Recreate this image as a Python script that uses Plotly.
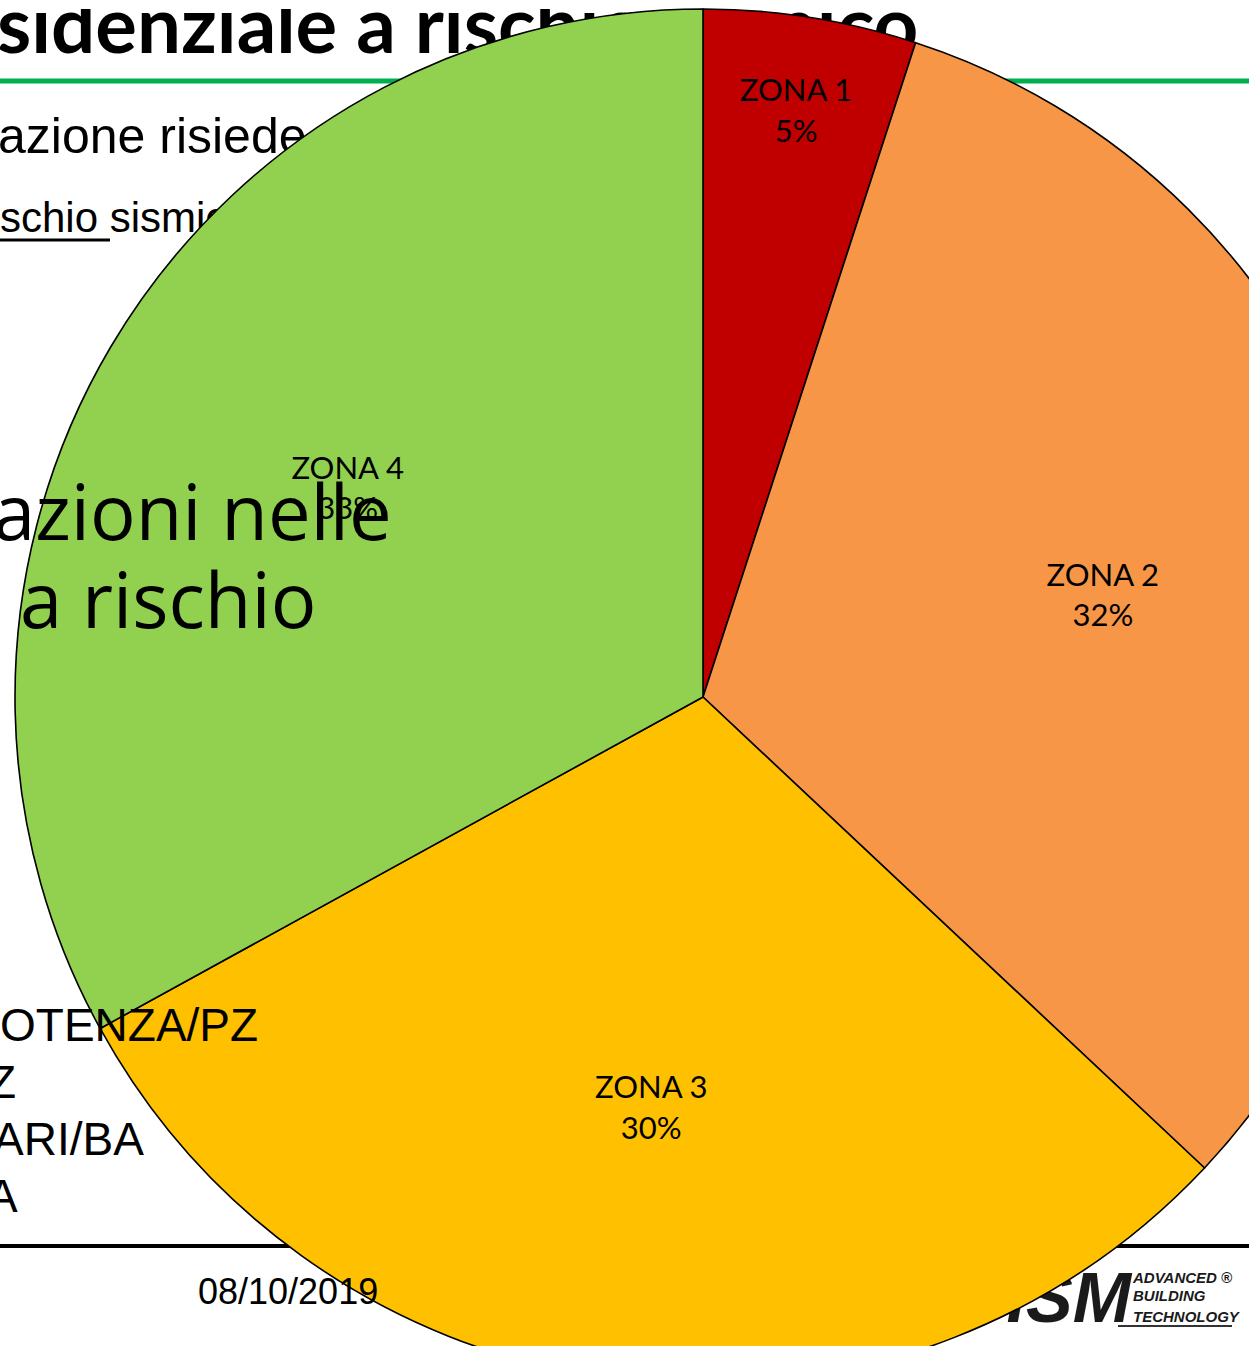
import plotly.graph_objects as go

# ---- chart data ----
zones = ["ZONA 1", "ZONA 2", "ZONA 3", "ZONA 4"]
shares = [5, 32, 30, 33]
zone_colors = ["#C00000", "#F79646", "#FFC000", "#92D050"]

# ---- slide text fragments visible around the chart ----
slide_title = "sidenziale a rischio sismico"
slide_line1 = "azione risiede"
slide_line2 = "schio sismico"
big_lines = ["azioni nelle", "a rischio"]
city_lines = ["OTENZA/PZ", "Z", "ARI/BA", "A"]
slide_date = "08/10/2019"
logo_big = "ISM"
logo_small = ["ADVANCED \u00ae", "BUILDING", "TECHNOLOGY"]

W, H = 1406, 1394
fig = go.Figure()

# text placed beneath the pie (cartesian layer sits under the pie layer)
def under_text(x, y, text, size, family, pos, color="black"):
    fig.add_trace(go.Scatter(x=[x], y=[y], mode="text", text=[text], textposition=pos,
                             textfont=dict(family=family, size=size, color=color),
                             hoverinfo="skip", showlegend=False))

under_text(-3, 53 - 0.25 * 78, "<b>" + slide_title + "</b>", 78, "Lato", "middle right")
under_text(-2, 153 - 0.25 * 50, slide_line1, 50, "Liberation Sans", "middle right")
under_text(0, 232 - 0.25 * 42, slide_line2, 42, "Liberation Sans", "middle right")
under_text(1131, 1322 - 0.25 * 70, "<b><i>" + logo_big + "</i></b>", 70, "Liberation Sans", "middle left", "#1a1a1a")
for txt, base in zip(logo_small, [1283, 1301, 1322]):
    under_text(1133, base - 0.25 * 15, "<b><i>" + txt + "</i></b>", 15, "Liberation Sans", "middle right", "#1a1a1a")

# the pie slices
fig.add_trace(go.Pie(
    labels=zones, values=shares, sort=False, direction="clockwise", rotation=0,
    marker=dict(colors=zone_colors, line=dict(color="black", width=1.6)),
    textinfo="none",
    domain=dict(x=[0, 1], y=[0, 1]), showlegend=False, hole=0,
))
# same data again, transparent, only to place the slice labels further out
fig.add_trace(go.Pie(
    labels=zones, values=shares, sort=False, direction="clockwise", rotation=0,
    marker=dict(colors=["rgba(0,0,0,0)"] * len(zones), line=dict(width=0)),
    texttemplate="%{label}<br>%{percent:.0%}", textposition="inside",
    insidetextorientation="horizontal",
    insidetextfont=dict(family="Lato", size=31, color="black"),
    domain=dict(x=[0, 1], y=[0, 1]), showlegend=False, hole=0.2,
    hoverinfo="skip",
))

shapes = [
    dict(type="line", xref="x", yref="y", x0=0, x1=W, y0=81, y1=81,
         line=dict(color="#00B050", width=5), layer="below"),
    dict(type="line", xref="x", yref="y", x0=0, x1=W, y0=1246, y1=1246,
         line=dict(color="black", width=4), layer="below"),
    dict(type="line", xref="x", yref="y", x0=0, x1=110, y0=240, y1=240,
         line=dict(color="black", width=3), layer="below"),
    dict(type="line", xref="x", yref="y", x0=1118, x1=1232, y0=1326, y1=1326,
         line=dict(color="#333333", width=2), layer="below"),
]

def over_text(x, y, text, size, family, xanchor):
    return dict(x=x, y=y, xref="x", yref="y", text=text, showarrow=False,
                xanchor=xanchor, yanchor="middle", borderpad=0, borderwidth=0,
                font=dict(family=family, size=size, color="black"))

annotations = [
    over_text(392, 540 - 0.388 * 76, big_lines[0], 76, "Open Sans", "right"),
    over_text(20, 628 - 0.388 * 76, big_lines[1], 76, "Open Sans", "left"),
]
for txt, xr, base in zip(city_lines, [258, 16, 144, 18], [1041, 1098, 1155, 1212]):
    annotations.append(over_text(xr, base - 0.347 * 46, txt, 46, "Liberation Sans", "right"))
annotations.append(over_text(288, 1304 - 0.347 * 36, slide_date, 36, "Liberation Sans", "center"))

fig.update_layout(
    width=W, height=H,
    margin=dict(l=0, r=0, t=9, b=9, pad=0),
    paper_bgcolor="white", plot_bgcolor="rgba(0,0,0,0)",
    xaxis=dict(range=[0, W], visible=False, fixedrange=True, domain=[0, 1]),
    yaxis=dict(range=[1385, 9], visible=False, fixedrange=True, domain=[0, 1]),
    shapes=shapes, annotations=annotations, hovermode=False, showlegend=False,
)

post = (
    "document.body.style.margin='0';"
    "document.body.style.overflow='hidden';"
    "document.documentElement.style.overflow='hidden';"
    "var gd=document.getElementById('{plot_id}');"
    "gd.parentElement.style.width='1249px';"
    "gd.parentElement.style.height='1346px';"
    "gd.parentElement.style.overflow='hidden';"
)
fig.write_html("out.html", post_script=post)
